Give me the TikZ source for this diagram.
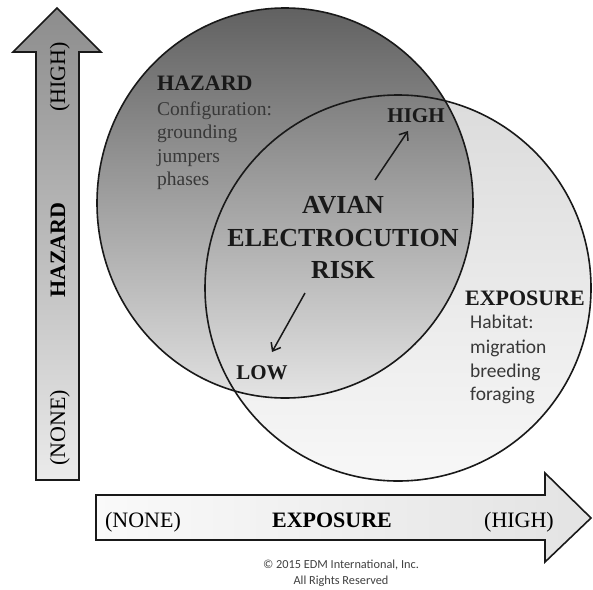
\documentclass[tikz,border=0pt]{standalone}
\usepackage{fontspec}
\setmainfont{Liberation Serif}
\newfontfamily\calib{Carlito}
\usetikzlibrary{arrows.meta}
\begin{document}
\begin{tikzpicture}[x=1pt,y=-1pt,
  outl/.style={line width=1.6pt, draw=black!90},
  conn/.style={line width=1.5pt, draw=black!90, -{Straight Barb[length=7pt,width=11pt]}},
  axlab/.style={font=\fontsize{22}{26}\selectfont, inner sep=0pt, anchor=base},
  axbold/.style={axlab, font=\fontsize{22}{26}\selectfont\bfseries},
  ctitle/.style={font=\fontsize{22}{26}\selectfont\bfseries, inner sep=0pt, text=black!90},
  lohi/.style={font=\fontsize{21}{25}\selectfont\bfseries, inner sep=0pt, anchor=base, text=black!90},
  hazline/.style={font=\fontsize{19.5}{23.5}\selectfont, inner sep=0pt, anchor=base west, text=black!78},
  expline/.style={font=\calib\fontsize{19.5}{24}\selectfont, inner sep=0pt, anchor=base west, text=black!78},
  riskline/.style={font=\fontsize{26}{32}\selectfont\bfseries, inner sep=0pt, anchor=base, text=black!90}]
\useasboundingbox (0,0) rectangle (593,589);

% exposure circle fill
\path[shade, top color=black!14, bottom color=black!3] (398,288) circle[radius=193pt];
% hazard circle fill
\path[shade, top color=black!62, middle color=black!47, bottom color=black!12]
  (285,203) ellipse[x radius=188pt, y radius=195pt];
% overlap fill
\begin{scope}
  \clip (285,203) ellipse[x radius=188pt, y radius=195pt];
  \path[shade, top color=black!50, bottom color=white] (398,288) circle[radius=193pt];
\end{scope}
% outlines
\draw[outl] (285,203) ellipse[x radius=188pt, y radius=195pt];
\draw[outl] (398,288) circle[radius=193pt];

% vertical axis arrow
\shadedraw[outl, top color=black!45, bottom color=black!8]
  (36,480) -- (36,52) -- (13,52) -- (57,8) -- (101,52) -- (79,52) -- (79,480) -- cycle;
% horizontal axis arrow
\shadedraw[outl, left color=black!2, right color=black!11]
  (96,495) -- (545,495) -- (545,473) -- (591,518) -- (545,562) -- (545,540) -- (96,540) -- cycle;

% vertical axis labels
\node[axlab, rotate=90] (vhigh) at (65,77) {(HIGH)};
\node[axbold, rotate=90] (vhaz) at (65,250) {HAZARD};
\node[axlab, rotate=90] (vnone) at (65,428) {(NONE)};
% horizontal axis labels
\node[axlab] (hnone) at (143,527) {(NONE)};
\node[axbold] (hexp) at (332,527) {EXPOSURE};
\node[axlab] (hhigh) at (519,527) {(HIGH)};

% hazard circle text
\node[ctitle, anchor=base west] (haz) at (157,90) {HAZARD};
\node[hazline] (haz1) at (157,115) {Configuration:};
\node[hazline] (haz2) at (157,138.5) {grounding};
\node[hazline] (haz3) at (157,162) {jumpers};
\node[hazline] (haz4) at (157,185.5) {phases};

% exposure circle text
\node[ctitle, anchor=base] (exp) at (525,305) {EXPOSURE};
\node[expline] (exp1) at (470,328) {Habitat:};
\node[expline] (exp2) at (470,353) {migration};
\node[expline] (exp3) at (470,377) {breeding};
\node[expline] (exp4) at (470,400) {foraging};

% central risk text
\node[riskline] (risk1) at (343,213) {AVIAN};
\node[riskline] (risk2) at (343,246) {ELECTROCUTION};
\node[riskline] (risk3) at (343,278) {RISK};

% high / low
\node[lohi] (high) at (416,122) {HIGH};
\node[lohi] (low) at (262,379) {LOW};
\coordinate (hiS) at (375,180);
\coordinate (hiE) at (408,131);
\coordinate (loS) at (305,293);
\coordinate (loE) at (272,352);
\draw[conn] (hiS) -- (hiE);
\draw[conn] (loS) -- (loE);

% copyright
\node[inner sep=0pt, anchor=base, font=\calib\fontsize{12.3}{16}\selectfont, text=black!75] (copy1) at (341,568)
  {\textcopyright{} 2015 EDM International, Inc.};
\node[inner sep=0pt, anchor=base, font=\calib\fontsize{12.3}{16}\selectfont, text=black!75] (copy2) at (341,584)
  {All Rights Reserved};
\end{tikzpicture}
\end{document}
